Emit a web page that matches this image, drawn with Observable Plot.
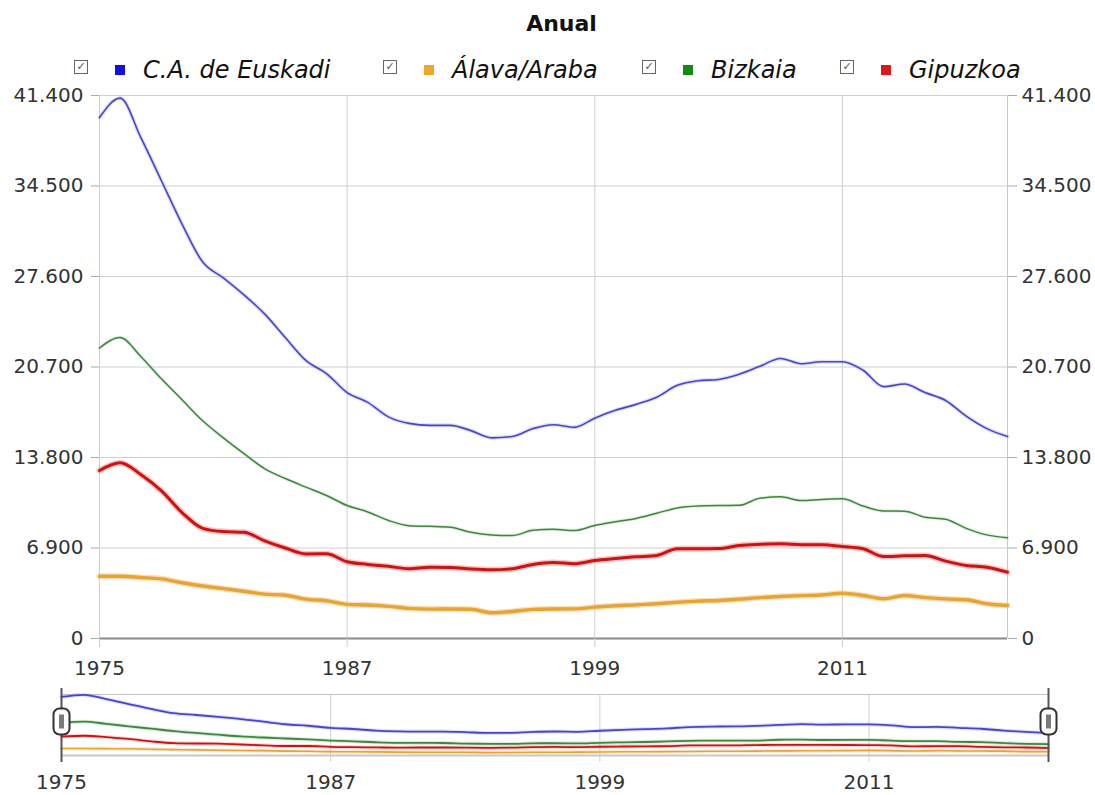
<!DOCTYPE html>
<html>
<head>
<meta charset="utf-8">
<script src="https://cdn.jsdelivr.net/npm/d3@7"></script>
<script src="https://cdn.jsdelivr.net/npm/@observablehq/plot@0.6"></script>
<style>
  body { margin: 0; background: #fff; font-family: "DejaVu Sans", sans-serif; }
  #wrap { position: relative; width: 1095px; height: 795px; overflow: hidden; background: #fff; }
  #title { position: absolute; left: 0; top: 11px; width: 1095px; box-sizing: border-box; padding-left: 28px;
           text-align: center; font-weight: bold; font-size: 22px; line-height: 26px; color: #111; }
  .item { position: absolute; top: 57px; height: 26px; display: flex; align-items: center;
          font-style: italic; font-size: 24px; color: #111; white-space: nowrap; }
  .cb { display: inline-block; box-sizing: border-box; width: 14px; height: 14px; border: 1px solid #666;
        font-style: normal; font-size: 11px; line-height: 12px; text-align: center; color: #555;
        position: relative; top: -3px; margin-left: 2px; }
  .sq { display: inline-block; width: 10px; height: 10px; margin-left: 27px; margin-right: 18px; }
  #main { position: absolute; left: 0; top: 80px; }
  #nav { position: absolute; left: 0; top: 685px; }
</style>
</head>
<body>
<div id="wrap">
  <div id="title">Anual</div>
  <div id="legend"></div>
  <div id="main"></div>
  <div id="nav"></div>
</div>
<script>
// ---- data ----
const years = [1975,1976,1977,1978,1979,1980,1981,1982,1983,1984,1985,1986,1987,1988,1989,1990,1991,1992,1993,1994,1995,1996,1997,1998,1999,2000,2001,2002,2003,2004,2005,2006,2007,2008,2009,2010,2011,2012,2013,2014,2015,2016,2017,2018,2019];
const euskadi = [39720,41200,38200,34900,31600,28700,27500,26200,24750,22950,21200,20200,18750,18000,16900,16400,16250,16250,15850,15300,15400,16000,16300,16100,16800,17400,17850,18400,19300,19650,19750,20150,20750,21350,20950,21100,21100,20450,19200,19400,18750,18150,16950,16000,15400];
const alava = [4750,4750,4650,4550,4250,4000,3800,3600,3380,3300,3000,2880,2600,2550,2450,2300,2240,2250,2230,1960,2060,2220,2250,2260,2390,2500,2560,2650,2760,2850,2900,3000,3120,3200,3270,3320,3450,3280,3030,3280,3120,3020,2950,2650,2520];
const bizkaia = [22150,22950,21500,19800,18200,16600,15300,14100,12950,12200,11540,10900,10140,9650,9000,8600,8550,8480,8100,7900,7850,8250,8330,8230,8620,8900,9150,9550,9950,10100,10140,10150,10700,10800,10520,10600,10650,10100,9720,9710,9250,9100,8400,7900,7680];
const gipuzkoa = [12810,13400,12500,11250,9600,8400,8150,8100,7450,6900,6450,6460,5850,5650,5500,5320,5440,5420,5300,5240,5320,5650,5800,5700,5950,6100,6230,6330,6840,6840,6860,7090,7180,7220,7150,7140,7010,6840,6250,6300,6330,5900,5570,5440,5060];
const seriesNames = ["C.A. de Euskadi", "Álava/Araba", "Bizkaia", "Gipuzkoa"];
const seriesValues = [euskadi, alava, bizkaia, gipuzkoa];
const yTicks = [0, 6900, 13800, 20700, 27600, 34500, 41400];
const xTicks = [1975, 1987, 1999, 2011];

// ---- styles ----
const legendColors = ["#1212e0", "#f0a52c", "#128a12", "#e01515"];
const lineColors = ["#4646c6", "#e5a33a", "#3f853f", "#cc1212"];
const haloColors = ["#a0a0ee", "#f5c878", "#9ccc9c", "#f08a8a"];
const coreWidth = [1.6, 3.4, 1.5, 3.0];
const haloWidth = [4, 6, 3.5, 6];
const haloOpacity = [0.35, 0.55, 0.3, 0.5];
const navWidth = [1.8, 1.6, 1.8, 1.8];

const rows = [];
seriesNames.forEach((name, i) => {
  years.forEach((yr, j) => rows.push({series: name, year: yr, value: seriesValues[i][j]}));
});

// ---- legend ----
const legendLeft = [72, 381, 640, 838];
const legend = document.getElementById("legend");
seriesNames.forEach((name, i) => {
  const it = document.createElement("div");
  it.className = "item";
  it.style.left = legendLeft[i] + "px";
  it.innerHTML = `<span class="cb">✓</span><span class="sq" style="background:${legendColors[i]}"></span><span>${name}</span>`;
  legend.appendChild(it);
});

const fmt = d => d3.format(",")(d).replace(/,/g, ".");

// ---- main chart ----
const lineMarks = [];
seriesNames.forEach((name, i) => {
  const data = rows.filter(r => r.series === name);
  lineMarks.push(Plot.line(data, {x: "year", y: "value", stroke: haloColors[i], strokeWidth: haloWidth[i], strokeOpacity: haloOpacity[i], curve: "monotone-x"}));
  lineMarks.push(Plot.line(data, {x: "year", y: "value", stroke: lineColors[i], strokeWidth: coreWidth[i], curve: "monotone-x"}));
});

const main = Plot.plot({
  width: 1095, height: 600,
  marginTop: 15, marginBottom: 42, marginLeft: 99, marginRight: 88,
  style: {fontFamily: "DejaVu Sans", fontSize: "20px", color: "#333", background: "transparent", overflow: "visible"},
  x: {domain: [1975, 2019], axis: null},
  y: {domain: [0, 41400], axis: null},
  marks: [
    Plot.gridY(yTicks, {stroke: "#cfcfcf", strokeOpacity: 1}),
    Plot.ruleX(xTicks, {stroke: "#cfcfcf"}),
    Plot.ruleX([2019], {stroke: "#c8c8c8"}),
    ...lineMarks,
    Plot.ruleY([0], {stroke: "#8a8a8a", strokeWidth: 2}),
    Plot.axisY(yTicks, {anchor: "left", tickFormat: fmt, tickSize: 8, tickPadding: 8, stroke: "#aaa", fill: "#333", label: null, fontSize: 20}),
    Plot.axisY(yTicks, {anchor: "right", tickFormat: fmt, tickSize: 9, tickPadding: 5, stroke: "#aaa", fill: "#333", label: null, fontSize: 20}),
    Plot.axisX(xTicks, {anchor: "bottom", tickFormat: d => String(d), tickSize: 9, tickPadding: 13, stroke: "#cfcfcf", fill: "#333", label: null, fontSize: 20})
  ]
});
document.getElementById("main").appendChild(main);

// ---- navigator ----
const handleSym = {draw(ctx) {
  const w = 8, h = 13, r = 6;
  ctx.moveTo(-w + r, -h); ctx.lineTo(w - r, -h); ctx.arcTo(w, -h, w, -h + r, r);
  ctx.lineTo(w, h - r); ctx.arcTo(w, h, w - r, h, r); ctx.lineTo(-w + r, h);
  ctx.arcTo(-w, h, -w, h - r, r); ctx.lineTo(-w, -h + r); ctx.arcTo(-w, -h, -w + r, -h, r); ctx.closePath();
}};
const gripSym = {draw(ctx) { ctx.rect(-2.5, -7, 5, 14); }};

const navLines = [];
seriesNames.forEach((name, i) => {
  const data = rows.filter(r => r.series === name);
  navLines.push(Plot.line(data, {x: "year", y: "value", stroke: haloColors[i], strokeWidth: 4, strokeOpacity: 0.35, curve: "monotone-x"}));
  navLines.push(Plot.line(data, {x: "year", y: "value", stroke: lineColors[i], strokeWidth: navWidth[i], curve: "monotone-x"}));
});

const nav = Plot.plot({
  width: 1095, height: 110,
  marginTop: 9, marginBottom: 40, marginLeft: 61, marginRight: 47,
  style: {fontFamily: "DejaVu Sans", fontSize: "20px", color: "#333", background: "transparent", overflow: "visible"},
  x: {domain: [1975, 2019], axis: null},
  y: {domain: [0, 41400], axis: null},
  marks: [
    Plot.ruleX(xTicks, {stroke: "#d0d0d0", insetBottom: -7}),
    Plot.ruleY([41400], {stroke: "#c4c4c4"}),
    ...navLines,
    Plot.ruleY([0], {stroke: "#c8c8c8", strokeWidth: 2}),
    Plot.axisX(xTicks, {anchor: "bottom", tickFormat: d => String(d), tickSize: 0, tickPadding: 19, fill: "#333", label: null, fontSize: 20}),
    Plot.ruleX([1975, 2019], {stroke: "#555", strokeWidth: 2, insetTop: -6, insetBottom: -7}),
    Plot.dot([1975, 2019], {x: d => d, frameAnchor: "middle", dy: -3.5, symbol: handleSym, fill: "#fff", stroke: "#333", strokeWidth: 2}),
    Plot.dot([1975, 2019], {x: d => d, frameAnchor: "middle", dy: -3.5, symbol: gripSym, fill: "#7a7a7a", stroke: "none"})
  ]
});
document.getElementById("nav").appendChild(nav);
</script>
</body>
</html>
